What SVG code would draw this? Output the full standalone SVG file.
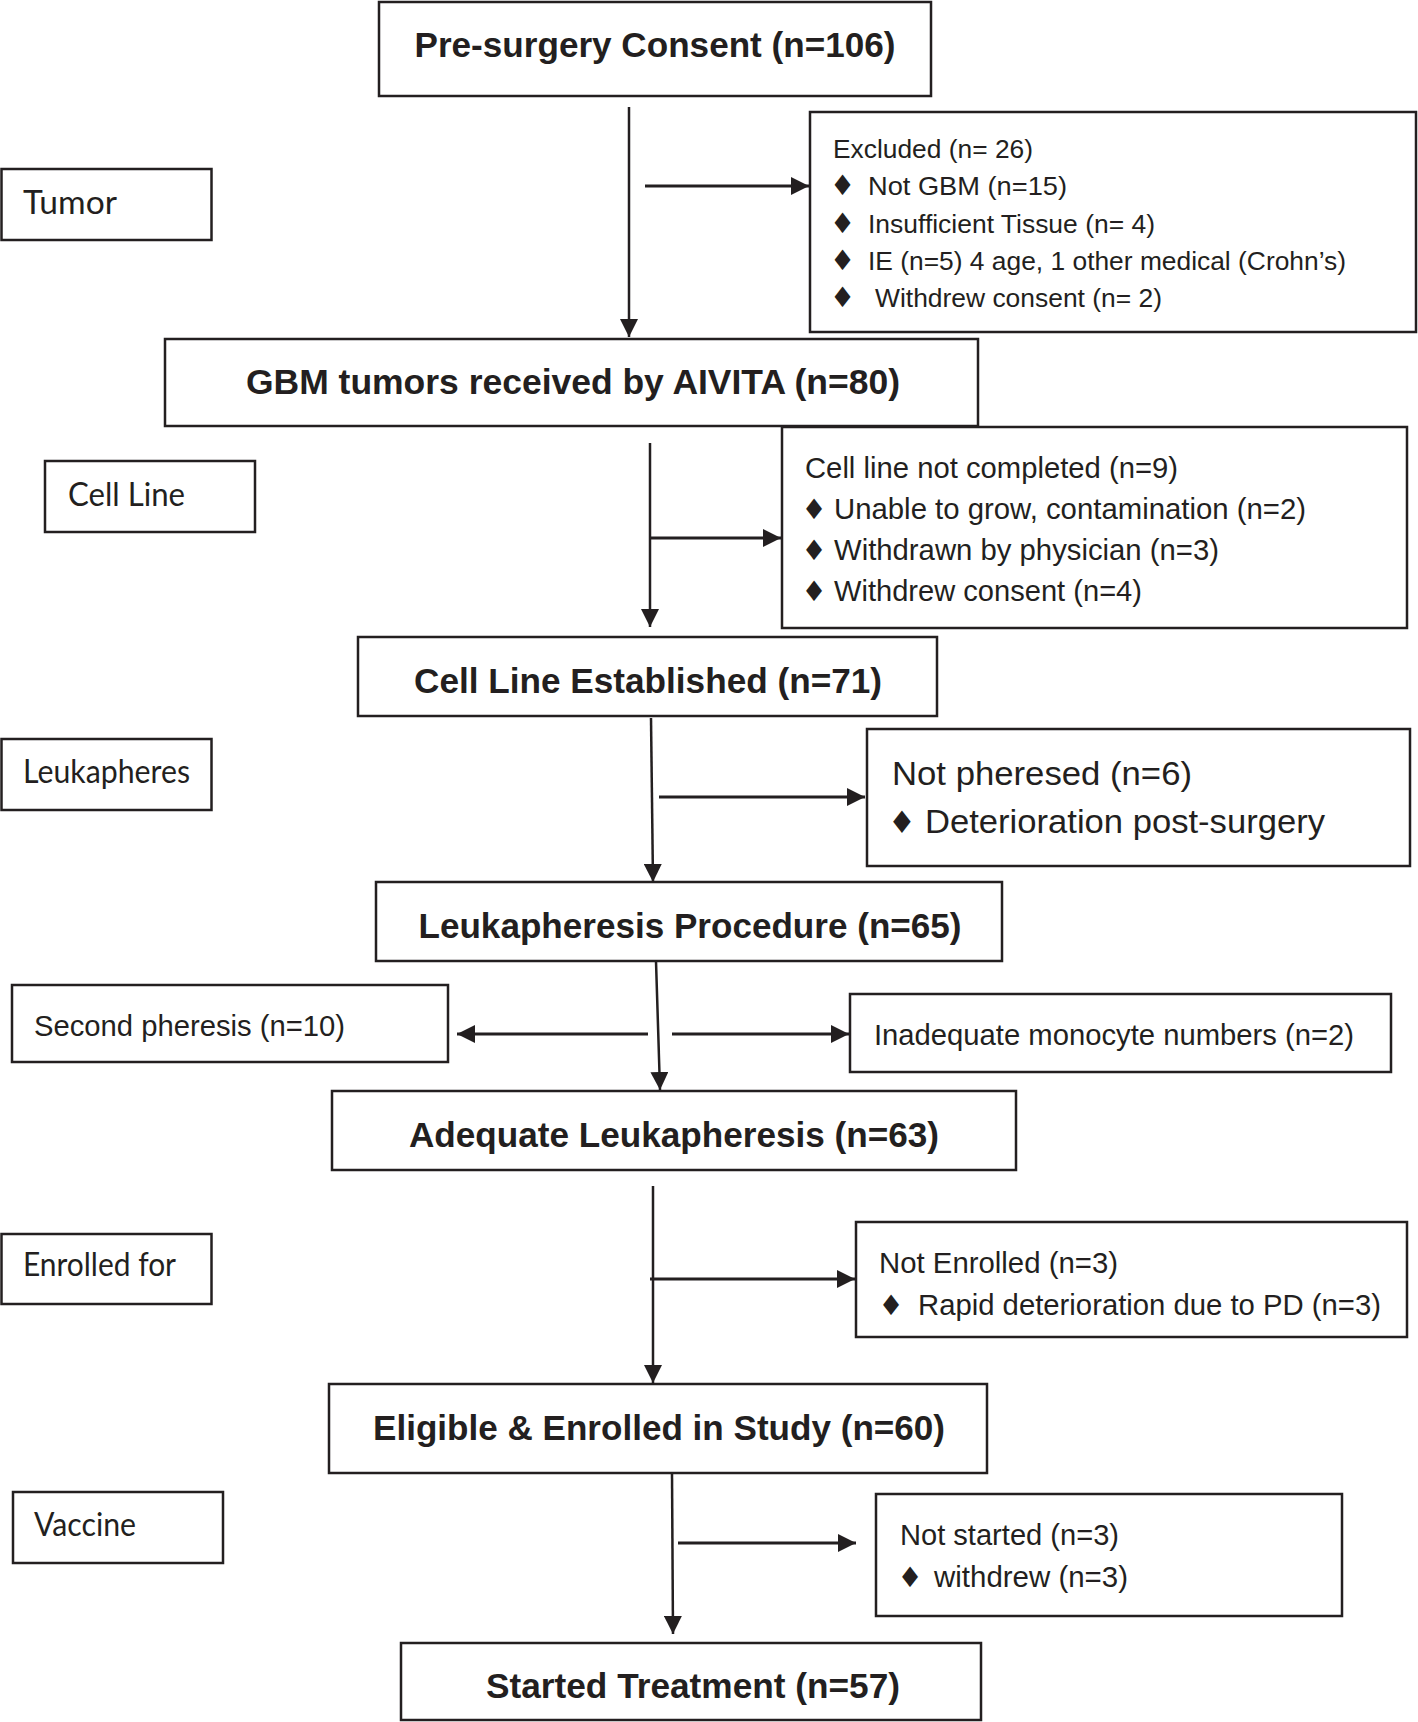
<svg xmlns="http://www.w3.org/2000/svg" width="1418" height="1722" viewBox="0 0 1418 1722">
<style>
.box{fill:#fff;stroke:#231f20;stroke-width:2.5}
.main{font-family:"Liberation Sans",Arial,sans-serif;font-weight:bold;font-size:35px;fill:#231f20;text-anchor:middle}
.reg{font-family:"Liberation Sans",Arial,sans-serif;font-size:29px;fill:#231f20}
.sm{font-size:26.5px}
.lg{font-size:33px}
.lab{font-family:Lato,"Open Sans",sans-serif;font-size:32px;fill:#231f20}
.dia{font-family:"DejaVu Sans",sans-serif;font-size:28px;fill:#231f20;text-anchor:middle}
.v{stroke:#231f20;stroke-width:2.5;fill:none}
.h{stroke:#231f20;stroke-width:3;fill:none}
</style>
<defs>
<marker id="ah" markerUnits="userSpaceOnUse" markerWidth="18" markerHeight="18" refX="18" refY="9" orient="auto">
<path d="M0,0 L18,9 L0,18 z" fill="#231f20"/>
</marker>
</defs>
<rect x="0" y="0" width="1418" height="1722" fill="#fff"/>

<g id="connectors">
<line class="v" x1="629" y1="107" x2="629" y2="337" marker-end="url(#ah)"/>
<line class="h" x1="645" y1="186" x2="809" y2="186" marker-end="url(#ah)"/>
<line class="v" x1="650" y1="443" x2="650" y2="627" marker-end="url(#ah)"/>
<line class="h" x1="650" y1="538" x2="781" y2="538" marker-end="url(#ah)"/>
<line class="v" x1="651" y1="718" x2="653" y2="882" marker-end="url(#ah)"/>
<line class="h" x1="659" y1="797" x2="865" y2="797" marker-end="url(#ah)"/>
<line class="v" x1="656" y1="961" x2="660" y2="1090" marker-end="url(#ah)"/>
<line class="h" x1="648" y1="1034" x2="457" y2="1034" marker-end="url(#ah)"/>
<line class="h" x1="672" y1="1034" x2="849" y2="1034" marker-end="url(#ah)"/>
<line class="v" x1="653" y1="1186" x2="653" y2="1383" marker-end="url(#ah)"/>
<line class="h" x1="650" y1="1279" x2="855" y2="1279" marker-end="url(#ah)"/>
<line class="v" x1="672" y1="1473" x2="673" y2="1634" marker-end="url(#ah)"/>
<line class="h" x1="678" y1="1543" x2="856" y2="1543" marker-end="url(#ah)"/>
</g>

<g id="n-consent">
<rect class="box" x="379" y="2" width="552" height="94"/>
<text class="main" x="655" y="57" textLength="481" lengthAdjust="spacingAndGlyphs">Pre-surgery Consent (n=106)</text>
</g>

<g id="n-tumor">
<rect class="box" x="1.5" y="169" width="210" height="71"/>
<text class="lab" x="23" y="214" textLength="94" lengthAdjust="spacingAndGlyphs">Tumor</text>
</g>

<g id="n-excluded">
<rect class="box" x="810" y="112" width="606" height="220"/>
<text class="reg sm" x="833" y="158" textLength="200" lengthAdjust="spacingAndGlyphs">Excluded (n= 26)</text>
<text class="dia" x="842.5" y="195">♦</text>
<text class="reg sm" x="868" y="195" textLength="199" lengthAdjust="spacingAndGlyphs">Not GBM  (n=15)</text>
<text class="dia" x="842.5" y="233">♦</text>
<text class="reg sm" x="868" y="233" textLength="287" lengthAdjust="spacingAndGlyphs">Insufficient Tissue (n= 4)</text>
<text class="dia" x="842.5" y="270">♦</text>
<text class="reg sm" x="868" y="270" textLength="478" lengthAdjust="spacingAndGlyphs">IE (n=5) 4 age, 1 other medical (Crohn’s)</text>
<text class="dia" x="842.5" y="307">♦</text>
<text class="reg sm" x="875" y="307" textLength="287" lengthAdjust="spacingAndGlyphs">Withdrew consent (n= 2)</text>
</g>

<g id="n-gbm">
<rect class="box" x="165" y="339" width="813" height="87"/>
<text class="main" x="573" y="394" textLength="654" lengthAdjust="spacingAndGlyphs">GBM tumors received by AIVITA (n=80)</text>
</g>

<g id="n-cellline-label">
<rect class="box" x="45" y="461" width="210" height="71"/>
<text class="lab" x="68" y="506" textLength="117" lengthAdjust="spacingAndGlyphs">Cell Line</text>
</g>

<g id="n-cellline-not">
<rect class="box" x="782" y="427" width="625" height="201"/>
<text class="reg" x="805" y="478" textLength="373" lengthAdjust="spacingAndGlyphs">Cell line not completed (n=9)</text>
<text class="dia" x="814" y="519">♦</text>
<text class="reg" x="834" y="519" textLength="472" lengthAdjust="spacingAndGlyphs">Unable to grow, contamination (n=2)</text>
<text class="dia" x="814" y="560">♦</text>
<text class="reg" x="834" y="560" textLength="385" lengthAdjust="spacingAndGlyphs">Withdrawn by physician (n=3)</text>
<text class="dia" x="814" y="601">♦</text>
<text class="reg" x="834" y="601" textLength="308" lengthAdjust="spacingAndGlyphs">Withdrew consent (n=4)</text>
</g>

<g id="n-cellline-est">
<rect class="box" x="358" y="637" width="579" height="79"/>
<text class="main" x="648" y="693" textLength="468" lengthAdjust="spacingAndGlyphs">Cell Line Established (n=71)</text>
</g>

<g id="n-leuka-label">
<rect class="box" x="1.5" y="739" width="210" height="71"/>
<text class="lab" x="23" y="783" textLength="167" lengthAdjust="spacingAndGlyphs">Leukapheres</text>
</g>

<g id="n-notpheresed">
<rect class="box" x="867" y="729" width="543" height="137"/>
<text class="reg lg" x="892" y="785" textLength="300" lengthAdjust="spacingAndGlyphs">Not pheresed (n=6)</text>
<text class="dia" x="902" y="833" style="font-size:31px">♦</text>
<text class="reg lg" x="925" y="833" textLength="400" lengthAdjust="spacingAndGlyphs">Deterioration post-surgery</text>
</g>

<g id="n-leuka-proc">
<rect class="box" x="376" y="882" width="626" height="79"/>
<text class="main" x="690" y="938" textLength="543" lengthAdjust="spacingAndGlyphs">Leukapheresis Procedure (n=65)</text>
</g>

<g id="n-second">
<rect class="box" x="12" y="985" width="436" height="77"/>
<text class="reg" x="34" y="1036" textLength="311" lengthAdjust="spacingAndGlyphs">Second pheresis (n=10)</text>
</g>

<g id="n-inadequate">
<rect class="box" x="850" y="994" width="541" height="78"/>
<text class="reg" x="874" y="1045" textLength="480" lengthAdjust="spacingAndGlyphs">Inadequate monocyte numbers (n=2)</text>
</g>

<g id="n-adequate">
<rect class="box" x="332" y="1091" width="684" height="79"/>
<text class="main" x="674" y="1147" textLength="530" lengthAdjust="spacingAndGlyphs">Adequate Leukapheresis (n=63)</text>
</g>

<g id="n-enrolled-label">
<rect class="box" x="1.5" y="1234" width="210" height="70"/>
<text class="lab" x="23" y="1276" textLength="153" lengthAdjust="spacingAndGlyphs">Enrolled for</text>
</g>

<g id="n-notenrolled">
<rect class="box" x="856" y="1222" width="551" height="115"/>
<text class="reg" x="879" y="1273" textLength="239" lengthAdjust="spacingAndGlyphs">Not Enrolled (n=3)</text>
<text class="dia" x="891" y="1315">♦</text>
<text class="reg" x="918" y="1315" textLength="463" lengthAdjust="spacingAndGlyphs">Rapid deterioration due to PD (n=3)</text>
</g>

<g id="n-eligible">
<rect class="box" x="329" y="1384" width="658" height="89"/>
<text class="main" x="659" y="1440" textLength="572" lengthAdjust="spacingAndGlyphs">Eligible &amp; Enrolled in Study (n=60)</text>
</g>

<g id="n-vaccine-label">
<rect class="box" x="13" y="1492" width="210" height="71"/>
<text class="lab" x="34" y="1536" textLength="102" lengthAdjust="spacingAndGlyphs">Vaccine</text>
</g>

<g id="n-notstarted">
<rect class="box" x="876" y="1494" width="466" height="122"/>
<text class="reg" x="900" y="1545" textLength="219" lengthAdjust="spacingAndGlyphs">Not started (n=3)</text>
<text class="dia" x="910" y="1587">♦</text>
<text class="reg" x="934" y="1587" textLength="194" lengthAdjust="spacingAndGlyphs">withdrew (n=3)</text>
</g>

<g id="n-started">
<rect class="box" x="401" y="1643" width="580" height="77"/>
<text class="main" x="693" y="1698" textLength="414" lengthAdjust="spacingAndGlyphs">Started Treatment (n=57)</text>
</g>
</svg>
